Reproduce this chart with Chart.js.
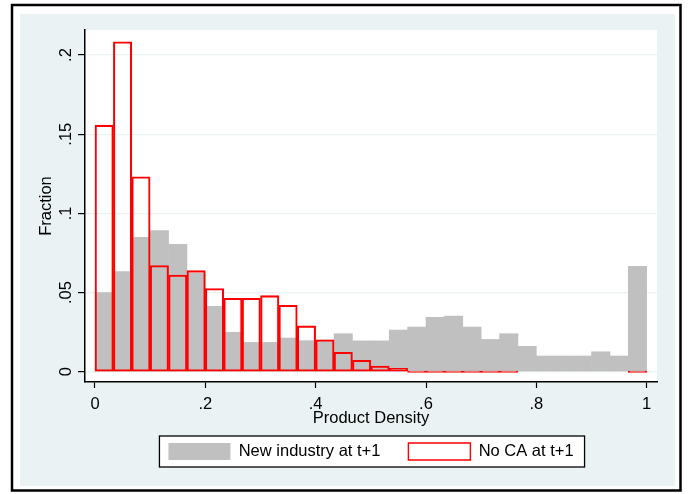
<!DOCTYPE html>
<html>
<head>
<meta charset="utf-8">
<script src="https://cdn.jsdelivr.net/npm/chart.js@4"></script>
<style>
  html, body { margin: 0; padding: 0; background: #ffffff; }
  #c { display: block; }
</style>
</head>
<body>
<canvas id="c" width="690" height="494"></canvas>
<script>
// Bin centres (30 bins of width 1/30 on [0,1])
const binCenters = [0.0167, 0.0500, 0.0833, 0.1167, 0.1500, 0.1833, 0.2167, 0.2500, 0.2833, 0.3167,
                    0.3500, 0.3833, 0.4167, 0.4500, 0.4833, 0.5167, 0.5500, 0.5833, 0.6167, 0.6500,
                    0.6833, 0.7167, 0.7500, 0.7833, 0.8167, 0.8500, 0.8833, 0.9167, 0.9500, 0.9833];
// Fraction, "New industry at t+1"
const newIndustry = [0.0500, 0.0632, 0.0849, 0.0891, 0.0805, 0.0622, 0.0413, 0.0249, 0.0185, 0.0185,
                     0.0213, 0.0196, 0.0200, 0.0240, 0.0195, 0.0195, 0.0263, 0.0282, 0.0343, 0.0351,
                     0.0282, 0.0204, 0.0240, 0.0160, 0.0099, 0.0099, 0.0099, 0.0126, 0.0099, 0.0666];
// Fraction, "No CA at t+1"
const noCA = [0.1557, 0.2084, 0.1231, 0.0670, 0.0611, 0.0638, 0.0525, 0.0464, 0.0464, 0.0480,
              0.0419, 0.0289, 0.0202, 0.0122, 0.0072, 0.0036, 0.0021, 0, 0, 0,
              0, 0, 0, null, null, null, null, null, null, 0];
const seriesNames = ['New industry at t+1', 'No CA at t+1'];
const xTickValues = [0, 0.2, 0.4, 0.6, 0.8, 1];
const xTickLabels = ['0', '.2', '.4', '.6', '.8', '1'];
const yTickValues = [0, 0.05, 0.1, 0.15, 0.2];
const yTickLabels = ['0', '.05', '.1', '.15', '.2'];
const xTitle = 'Product Density';
const yTitle = 'Fraction';

const FONT = "'Liberation Sans', Arial, sans-serif";
const FS = 16.5;
const BG = '#EAF2F3';

Chart.defaults.font.family = FONT;
Chart.defaults.font.size = FS;
Chart.defaults.color = '#000';

const framePlugin = {
  id: 'stataFrame',
  beforeDraw(chart) {
    const ctx = chart.ctx;
    const W = chart.width, H = chart.height;
    ctx.save();
    ctx.fillStyle = '#ffffff';
    ctx.fillRect(0, 0, W, H);
    // outer graph region
    ctx.fillStyle = BG;
    ctx.fillRect(20, 14, 655, 472);
    // outer black frame
    ctx.strokeStyle = '#000';
    ctx.lineWidth = 2.5;
    ctx.strokeRect(12, 5, 668.5, 485.5);
    // plot region
    const a = chart.chartArea;
    ctx.fillStyle = '#ffffff';
    ctx.fillRect(a.left, a.top, a.right - a.left, a.bottom - a.top);
    // legend box
    const lg = chart.legend;
    if (lg && lg.legendHitBoxes && lg.legendHitBoxes.length) {
      const hb = lg.legendHitBoxes;
      const last = hb[hb.length - 1];
      const l = hb[0].left - 9;
      const r = last.left + last.width + 11;
      const t = hb[0].top - 7;
      const b = hb[0].top + hb[0].height + 7;
      ctx.fillStyle = '#ffffff';
      ctx.fillRect(l, t, r - l, b - t);
      ctx.strokeStyle = '#000';
      ctx.lineWidth = 1.3;
      ctx.strokeRect(l, t, r - l, b - t);
    }
    ctx.restore();
  }
};

new Chart(document.getElementById('c'), {
  type: 'bar',
  data: {
    datasets: [
      {
        label: seriesNames[0],
        data: binCenters.map((x, i) => ({ x: x, y: newIndustry[i] })),
        backgroundColor: '#C0C0C0',
        borderWidth: 0,
        grouped: false,
        barPercentage: 1,
        categoryPercentage: 1,
        order: 2
      },
      {
        label: seriesNames[1],
        data: binCenters.map((x, i) => ({ x: x, y: noCA[i] })),
        backgroundColor: 'rgba(255,255,255,0)',
        borderColor: '#FF0000',
        borderWidth: 1.4,
        borderSkipped: false,
        minBarLength: 1.5,
        grouped: false,
        barPercentage: 1,
        categoryPercentage: 1,
        order: 1
      }
    ]
  },
  options: {
    responsive: false,
    animation: false,
    devicePixelRatio: 1,
    layout: { padding: { left: 0, top: 30, right: 33, bottom: 24 } },
    plugins: {
      tooltip: { enabled: false },
      legend: {
        position: 'bottom',
        fullSize: false,
        labels: {
          boxWidth: 62,
          boxHeight: 17,
          padding: 28,
          color: '#000',
          font: { size: FS, family: FONT },
          sort: (a, b) => a.datasetIndex - b.datasetIndex
        }
      }
    },
    scales: {
      x: {
        type: 'linear',
        min: -0.0181,
        max: 1.0187,
        offset: false,
        afterBuildTicks: (s) => { s.ticks = xTickValues.map(v => ({ value: v })); },
        afterFit: (s) => { s.height = 33; },
        ticks: {
          callback: (v, i) => xTickLabels[i],
          padding: 7,
          maxRotation: 0,
          autoSkip: false,
          color: '#000',
          font: { size: FS, family: FONT }
        },
        grid: {
          offset: false,
          drawOnChartArea: false,
          color: '#000',
          tickColor: '#000',
          tickLength: 6,
          tickWidth: 1.2
        },
        border: { display: true, color: '#000', width: 1.5 },
        title: {
          display: true,
          text: xTitle,
          color: '#000',
          font: { size: FS, family: FONT },
          padding: { top: 0, bottom: -13.5 }
        }
      },
      y: {
        type: 'linear',
        min: -0.0065,
        max: 0.2158,
        afterBuildTicks: (s) => { s.ticks = yTickValues.map(v => ({ value: v })); },
        afterFit: (s) => { s.width = 85; },
        ticks: {
          callback: (v, i) => yTickLabels[i],
          minRotation: 90,
          maxRotation: 90,
          crossAlign: 'center',
          padding: 0,
          autoSkip: false,
          color: '#000',
          font: { size: FS, family: FONT }
        },
        grid: {
          color: BG,
          lineWidth: 1.2,
          tickColor: '#000',
          tickLength: 7,
          tickWidth: 1.2
        },
        border: { display: true, color: '#000', width: 1.5 },
        title: {
          display: true,
          text: yTitle,
          color: '#000',
          font: { size: FS, family: FONT },
          padding: { top: 36.6, bottom: 0 }
        }
      }
    }
  },
  plugins: [framePlugin]
});
</script>
</body>
</html>
